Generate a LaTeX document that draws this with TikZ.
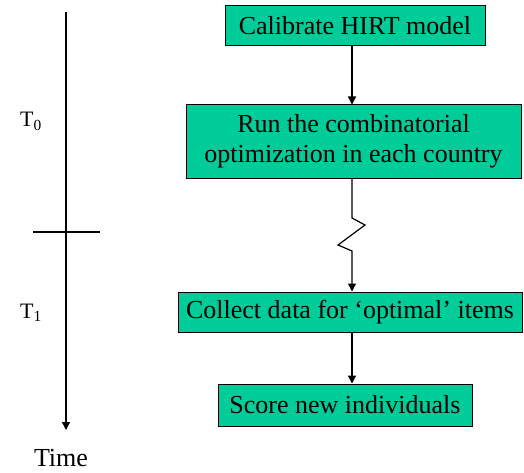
\documentclass[tikz,border=0pt]{standalone}
\usepackage{fontspec}
\setmainfont{Liberation Serif}
\usetikzlibrary{arrows.meta}
\definecolor{boxgreen}{RGB}{0,204,153}
\begin{document}
\begin{tikzpicture}[x=1pt,y=-1pt,
  stepbox/.style={draw=black, line width=1pt, fill=boxgreen, inner sep=0pt,
    font=\fontsize{26}{30}\selectfont, align=center},
  arr/.style={line width=1.2pt, -{Triangle[width=8pt,length=8pt]}},
  lbl/.style={font=\fontsize{22}{26}\selectfont, inner sep=0pt, anchor=base west}]
\useasboundingbox (0,0) rectangle (524,473);

% time axis
\coordinate (ttop) at (66,12);
\coordinate (tend) at (66,430);
\draw[arr] (ttop) -- (tend);
\coordinate (cl) at (33,232);
\coordinate (cr) at (100,232);
\draw[line width=1.2pt] (cl) -- (cr);
\node[lbl] (t0) at (20,127) {T\textsubscript{0}};
\node[lbl] (t1) at (20,318) {T\textsubscript{1}};
\node[font=\fontsize{26}{30}\selectfont, inner sep=0pt] (time) at (61,458) {Time};

% process steps
\node[stepbox, minimum width=260pt, minimum height=40pt] (b1) at (355,26) {Calibrate HIRT model};
\node[stepbox, minimum width=335pt, minimum height=73pt] (b2) at (353.5,141.5)
  {Run the combinatorial\\optimization in each country};
\node[stepbox, minimum width=344pt, minimum height=40pt] (b3) at (350,312)
  {Collect data for ‘optimal’ items};
\node[stepbox, minimum width=254pt, minimum height=42pt] (b4) at (345,405)
  {Score new individuals};

% connectors
\coordinate (ax) at (352,0);
\draw[arr] (b1.south -| ax) -- (b2.north -| ax);
\draw[arr] (b2.south -| ax) -- (352,218) -- (365,225) -- (338,245) -- (352,251) -- (b3.north -| ax);
\draw[arr] (b3.south -| ax) -- (b4.north -| ax);
\end{tikzpicture}
\end{document}
